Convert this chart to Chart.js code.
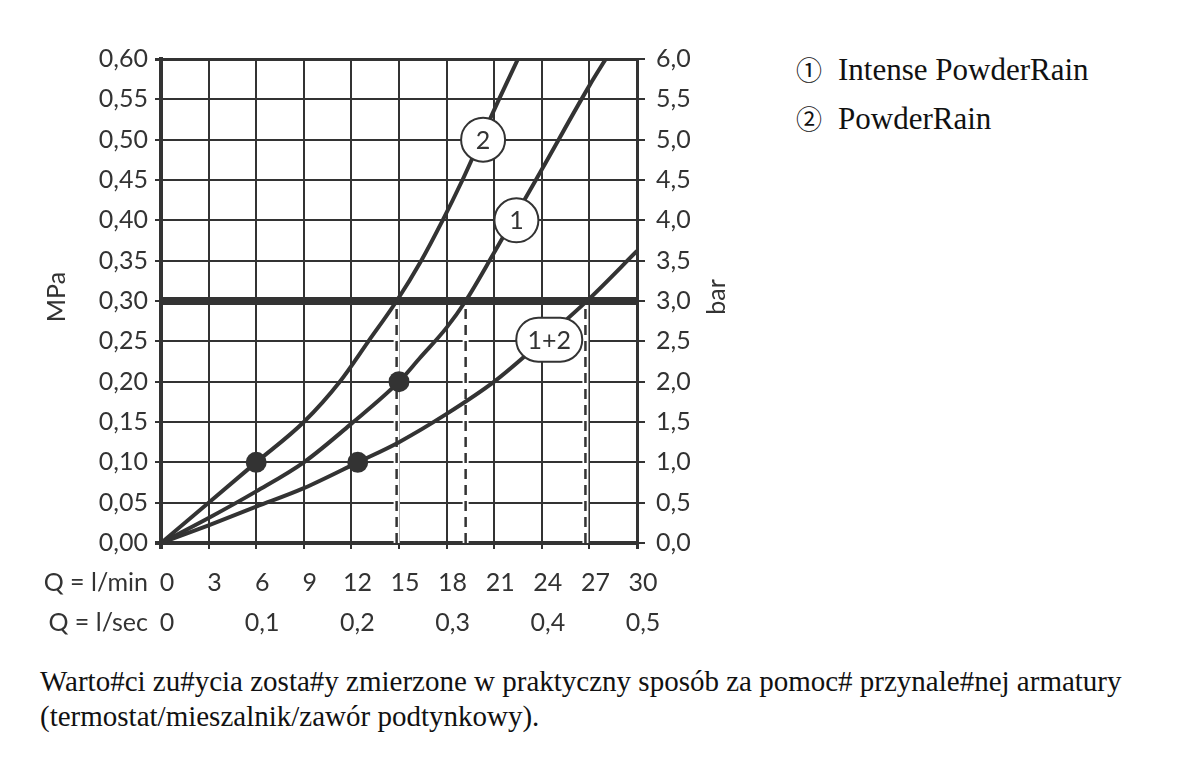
<!DOCTYPE html>
<html>
<head>
<meta charset="utf-8">
<script src="https://cdn.jsdelivr.net/npm/chart.js@4.4.1/dist/chart.umd.min.js"></script>
<style>
  html, body { margin:0; padding:0; background:#fff; width:1200px; height:765px; overflow:hidden; }
  #wrap { position:absolute; left:0; top:0; width:760px; height:660px; }
  .legend { position:absolute; left:796px; top:45px; font-family:"Liberation Serif","Times New Roman",serif; font-size:31px; line-height:48px; color:#111; white-space:nowrap; }
  .legend .c { font-family:"Noto Sans CJK SC","DejaVu Sans",sans-serif; font-size:26px; margin-right:16px; }
  .footer { position:absolute; left:40px; top:664px; font-family:"Liberation Serif","Times New Roman",serif; font-size:29px; line-height:35px; color:#111; white-space:nowrap; }
</style>
</head>
<body>
<div id="wrap"><canvas id="c"></canvas></div>
<div class="legend">
  <div><span class="c">①</span>Intense PowderRain</div>
  <div><span class="c">②</span>PowderRain</div>
</div>
<div class="footer">
  <div>Warto#ci zu#ycia zosta#y zmierzone w praktyczny sposób za pomoc# przynale#nej armatury</div>
  <div>(termostat/mieszalnik/zawór podtynkowy).</div>
</div>
<script>
// ---- axis ticks ----
const flowTicks = [0, 3, 6, 9, 12, 15, 18, 21, 24, 27, 30];
const flowTickLabels = ['0', '3', '6', '9', '12', '15', '18', '21', '24', '27', '30'];
const flowSecTicks = [0, 6, 12, 18, 24, 30];
const flowSecLabels = ['0', '0,1', '0,2', '0,3', '0,4', '0,5'];
const mpaTicks = [0, 0.05, 0.10, 0.15, 0.20, 0.25, 0.30, 0.35, 0.40, 0.45, 0.50, 0.55, 0.60];
const mpaLabels = ['0,00', '0,05', '0,10', '0,15', '0,20', '0,25', '0,30', '0,35', '0,40', '0,45', '0,50', '0,55', '0,60'];
const barTicks = [0, 0.5, 1, 1.5, 2, 2.5, 3, 3.5, 4, 4.5, 5, 5.5, 6];
const barLabels = ['0,0', '0,5', '1,0', '1,5', '2,0', '2,5', '3,0', '3,5', '4,0', '4,5', '5,0', '5,5', '6,0'];
const qMinLabel = 'Q = l/min';
const qSecLabel = 'Q = l/sec';
const yTitle = 'MPa';
const y2Title = 'bar';

// ---- series (Q in l/min, p in MPa) ----
// 1: Intense PowderRain
const c1Q = [0, 3, 6, 9, 12, 15, 16.3, 18, 19.2, 21, 24, 27, 28.03];
const c1P = [0, 0.031, 0.064, 0.10, 0.148, 0.20, 0.229, 0.267, 0.30, 0.36, 0.463, 0.567, 0.60];
// 2: PowderRain
const c2Q = [0, 3, 6, 9, 11.27, 13.07, 14.85, 16.4, 17.75, 19.0, 20.15, 21.3, 22.5];
const c2P = [0, 0.05, 0.10, 0.15, 0.20, 0.25, 0.30, 0.35, 0.40, 0.45, 0.50, 0.55, 0.60];
// 1+2
const c12Q = [0, 3, 6, 9, 12.4, 15, 18, 21, 24, 27, 30];
const c12P = [0, 0.022, 0.045, 0.068, 0.10, 0.125, 0.16, 0.20, 0.25, 0.303, 0.362];

const dotQ = [6, 15, 12.4];
const dotP = [0.10, 0.20, 0.10];

const limitP = 0.30;
const limitQ = [0, 30];
const dashQ = [14.85, 19.2, 26.75];

const curveLabelText = ['2', '1', '1+2'];
const curveLabelQ = [20.3, 22.4, 24.47];
const curveLabelP = [0.50, 0.40, 0.252];

// ---- styling ----
const ink = '#333';
const tickFont = { family: 'Lato', size: 25 };

const toPts = (xs, ys) => xs.map((x, i) => ({ x: x, y: ys[i] }));

const datasets = [];
dashQ.forEach(q => datasets.push({
  data: [{ x: q, y: 0 }, { x: q, y: limitP }],
  borderColor: '#fff', borderWidth: 6, pointRadius: 0, order: 10
}));
dashQ.forEach(q => datasets.push({
  data: [{ x: q, y: 0 }, { x: q, y: limitP }],
  borderColor: ink, borderWidth: 2.5, borderDash: [10, 6], pointRadius: 0, order: 9
}));
datasets.push({
  data: limitQ.map(q => ({ x: q, y: limitP })),
  borderColor: ink, borderWidth: 8, pointRadius: 0, order: 8
});
[[c1Q, c1P], [c2Q, c2P], [c12Q, c12P]].forEach(([q, p]) => datasets.push({
  data: toPts(q, p),
  borderColor: ink, borderWidth: 4, pointRadius: 0,
  cubicInterpolationMode: 'monotone', order: 5
}));
datasets.push({
  data: toPts(dotQ, dotP), showLine: false,
  pointRadius: 10.5, pointBackgroundColor: ink, pointBorderColor: ink, pointBorderWidth: 0, order: 1
});

function stadium(ctx, cx, cy, w, h) {
  const r = h / 2;
  ctx.beginPath();
  ctx.moveTo(cx - w / 2 + r, cy - r);
  ctx.lineTo(cx + w / 2 - r, cy - r);
  ctx.arc(cx + w / 2 - r, cy, r, -Math.PI / 2, Math.PI / 2);
  ctx.lineTo(cx - w / 2 + r, cy + r);
  ctx.arc(cx - w / 2 + r, cy, r, Math.PI / 2, Math.PI * 1.5);
  ctx.closePath();
}

const annot = {
  id: 'annot',
  afterDatasetsDraw(chart) {
    const { ctx } = chart;
    const x = chart.scales.x, y = chart.scales.y;
    ctx.save();
    curveLabelText.forEach((t, i) => {
      const px = x.getPixelForValue(curveLabelQ[i]);
      const py = y.getPixelForValue(curveLabelP[i]);
      const w = t.length > 1 ? 66 : 44;
      stadium(ctx, px, py, w, 44);
      ctx.fillStyle = '#fff'; ctx.fill();
      ctx.lineWidth = 2; ctx.strokeStyle = ink; ctx.stroke();
      ctx.fillStyle = ink; ctx.font = '25px Lato';
      ctx.textAlign = 'center'; ctx.textBaseline = 'middle';
      ctx.fillText(t, px, py + 1);
    });
    ctx.restore();
  },
  afterDraw(chart) {
    const { ctx } = chart;
    const xs = chart.scales.x, x2s = chart.scales.x2;
    ctx.save();
    ctx.fillStyle = ink; ctx.font = '25px Lato';
    ctx.textAlign = 'right'; ctx.textBaseline = 'middle';
    ctx.fillText(qMinLabel, 148, xs.top + 40);
    ctx.fillText(qSecLabel, 148, x2s.top + 24);
    ctx.textAlign = 'center';
    ctx.save(); ctx.translate(57, 297); ctx.rotate(-Math.PI / 2); ctx.fillText(yTitle, 0, 0); ctx.restore();
    ctx.save(); ctx.translate(717, 297); ctx.rotate(-Math.PI / 2); ctx.fillText(y2Title, 0, 0); ctx.restore();
    ctx.restore();
  }
};

new Chart(document.getElementById('c'), {
  type: 'line',
  data: { datasets: datasets },
  plugins: [annot],
  options: {
    responsive: true, maintainAspectRatio: false, animation: false,
    layout: { padding: { left: 0, right: 0, top: 59, bottom: 16 } },
    plugins: { legend: { display: false }, tooltip: { enabled: false } },
    scales: {
      x: {
        type: 'linear', position: 'bottom', min: 0, max: 30, weight: 0,
        afterBuildTicks: s => { s.ticks = flowTicks.map(v => ({ value: v })); },
        afterFit: s => { s.height = 56; },
        ticks: { callback: (v, i) => flowTickLabels[i], font: tickFont, color: ink, padding: 19, labelOffset: 6, maxRotation: 0, autoSkip: false },
        grid: { color: ink, lineWidth: c => (c.index === 0 ? 4 : (c.index === flowTicks.length - 1 ? 3 : 2)), tickLength: 6 },
        border: { color: ink, width: 4 }
      },
      x2: {
        type: 'linear', position: 'bottom', min: 0, max: 30, weight: 1,
        afterBuildTicks: s => { s.ticks = flowSecTicks.map(v => ({ value: v })); },
        afterFit: s => { s.height = 45; },
        ticks: { callback: (v, i) => flowSecLabels[i], font: tickFont, color: ink, padding: 9, labelOffset: 6, maxRotation: 0, autoSkip: false },
        grid: { display: false, drawTicks: false },
        border: { display: false }
      },
      y: {
        type: 'linear', position: 'left', min: 0, max: 0.6,
        afterBuildTicks: s => { s.ticks = mpaTicks.map(v => ({ value: v })); },
        afterFit: s => { s.width = 161; },
        ticks: { callback: (v, i) => mpaLabels[i], font: tickFont, color: ink, padding: 7, autoSkip: false },
        grid: { color: ink, lineWidth: c => (c.index === 0 ? 4 : (c.index === mpaTicks.length - 1 ? 3 : 2)), tickLength: 6 },
        border: { color: ink, width: 4 }
      },
      y2: {
        type: 'linear', position: 'right', min: 0, max: 6,
        afterBuildTicks: s => { s.ticks = barTicks.map(v => ({ value: v })); },
        afterFit: s => { s.width = 123; },
        ticks: { callback: (v, i) => barLabels[i], font: tickFont, color: ink, padding: 11, autoSkip: false },
        grid: { color: ink, lineWidth: 2, drawOnChartArea: false, tickLength: 8 },
        border: { color: ink, width: 3 }
      }
    }
  }
});
</script>
</body>
</html>
